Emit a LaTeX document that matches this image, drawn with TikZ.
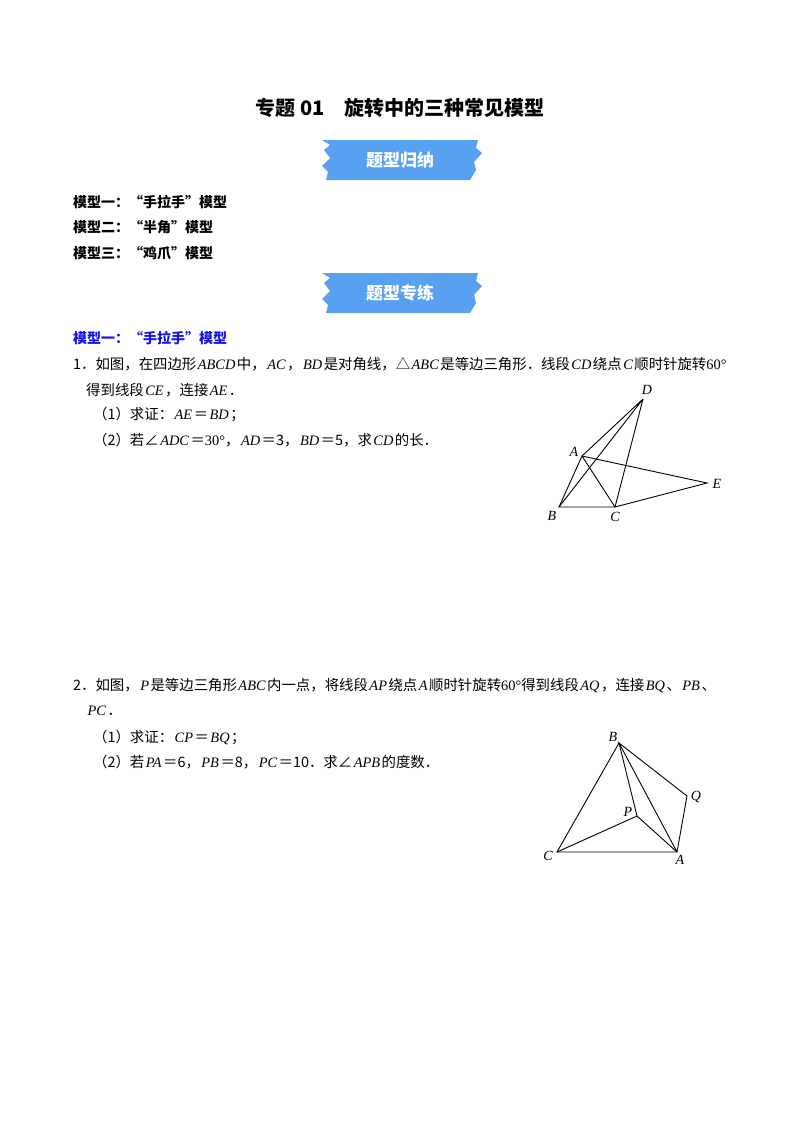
\documentclass[tikz,border=0pt]{standalone}
\usepackage{fontspec}
\setmainfont{Noto Sans CJK SC}
\newfontfamily\lat{Liberation Serif}
\newcommand{\vx}[1]{\kern1.5pt{\lat\itshape #1}\kern1.5pt}
\definecolor{bannerblue}{RGB}{88,160,240}
\definecolor{headblue}{RGB}{20,20,230}
\tikzset{
  txt/.style={anchor=west, inner sep=0pt, font=\fontsize{14.4}{14}\selectfont},
  hd/.style={txt, font=\fontsize{14}{14}\selectfont\bfseries},
  lbl/.style={inner sep=1pt, font=\fontsize{14}{14}\selectfont\lat\itshape},
  seg/.style={line width=0.9pt}
}
\begin{document}
\begin{tikzpicture}[x=1pt,y=-1pt]
  \useasboundingbox[fill=white] (0,0) rectangle (800,1132);

  % Titel
  \node[font=\fontsize{20}{20}\selectfont\bfseries] (title) at (400,108) {专题 01\quad 旋转中的三种常见模型};

  % Banner
  \foreach \y/\t [count=\i] in {140/题型归纳, 273/题型专练}{
    \fill[bannerblue] (322,\y) -- (478,\y) -- (476,\y+8) -- (482,\y+13) -- (474,\y+22) -- (476,\y+30) -- (470,\y+40)
      -- (326,\y+40) -- (328,\y+32) -- (322,\y+26) -- (330,\y+18) -- (324,\y+10) -- (330,\y+5) -- cycle;
    \node[text=white, font=\fontsize{17}{17}\selectfont\bfseries] (ban\i) at (400,\y+20) {\t};
  }

  % Gliederung
  \node[hd] (m1) at (73,202) {模型一：“手拉手”模型};
  \node[hd] (m2) at (73,227) {模型二：“半角”模型};
  \node[hd] (m3) at (73,253) {模型三：“鸡爪”模型};
  \node[hd, text=headblue] (sec1) at (73,338) {模型一：“手拉手”模型};

  % Aufgabe 1
  \node[txt] (q1a) at (73,364) {1．如图，在四边形\vx{ABCD}中，\vx{AC}，\vx{BD}是对角线，△\vx{ABC}是等边三角形．线段\vx{CD}绕点\vx{C}顺时针旋转{\lat 60°}};
  \node[txt] (q1b) at (86,390) {得到线段\vx{CE}，连接\vx{AE}．};
  \node[txt] (q1c) at (93,414) {（1）求证：\vx{AE}＝\vx{BD}；};
  \node[txt] (q1d) at (93,440) {（2）若∠\vx{ADC}＝{\lat 30°}，\vx{AD}＝3，\vx{BD}＝5，求\vx{CD}的长．};

  % Figur 1
  \coordinate (D) at (643,399);
  \coordinate (A) at (582,456);
  \coordinate (B) at (559,507);
  \coordinate (C) at (615,507);
  \coordinate (E) at (707,483);
  \draw[seg] (A) -- (D) -- (B) -- (C) -- (D);
  \draw[seg] (B) -- (A) -- (C) -- (E) -- (A);
  \node[lbl] at (647,390) {D};
  \node[lbl] at (574,452) {A};
  \node[lbl] at (552,516) {B};
  \node[lbl] at (615,517) {C};
  \node[lbl] at (717,484) {E};

  % Aufgabe 2
  \node[txt] (q2a) at (73,686) {2．如图，\vx{P}是等边三角形\vx{ABC}内一点，将线段\vx{AP}绕点\vx{A}顺时针旋转{\lat 60°}得到线段\vx{AQ}，连接\vx{BQ}、\vx{PB}、};
  \node[txt] (q2b) at (86,711) {\vx{PC}．};
  \node[txt] (q2c) at (93,737) {（1）求证：\vx{CP}＝\vx{BQ}；};
  \node[txt] (q2d) at (93,762) {（2）若\vx{PA}＝6，\vx{PB}＝8，\vx{PC}＝10．求∠\vx{APB}的度数．};

  % Figur 2
  \coordinate (B2) at (619,743);
  \coordinate (Q2) at (687,796);
  \coordinate (P2) at (637,816);
  \coordinate (C2) at (557,852);
  \coordinate (A2) at (677,852);
  \draw[seg] (B2) -- (C2) -- (A2) -- (Q2) -- (B2) -- (A2);
  \draw[seg] (B2) -- (P2) -- (A2);
  \draw[seg] (C2) -- (P2);
  \node[lbl] at (613,737) {B};
  \node[lbl] at (696,797) {Q};
  \node[lbl] at (628,812) {P};
  \node[lbl] at (548,856) {C};
  \node[lbl] at (680,860) {A};
\end{tikzpicture}
\end{document}
